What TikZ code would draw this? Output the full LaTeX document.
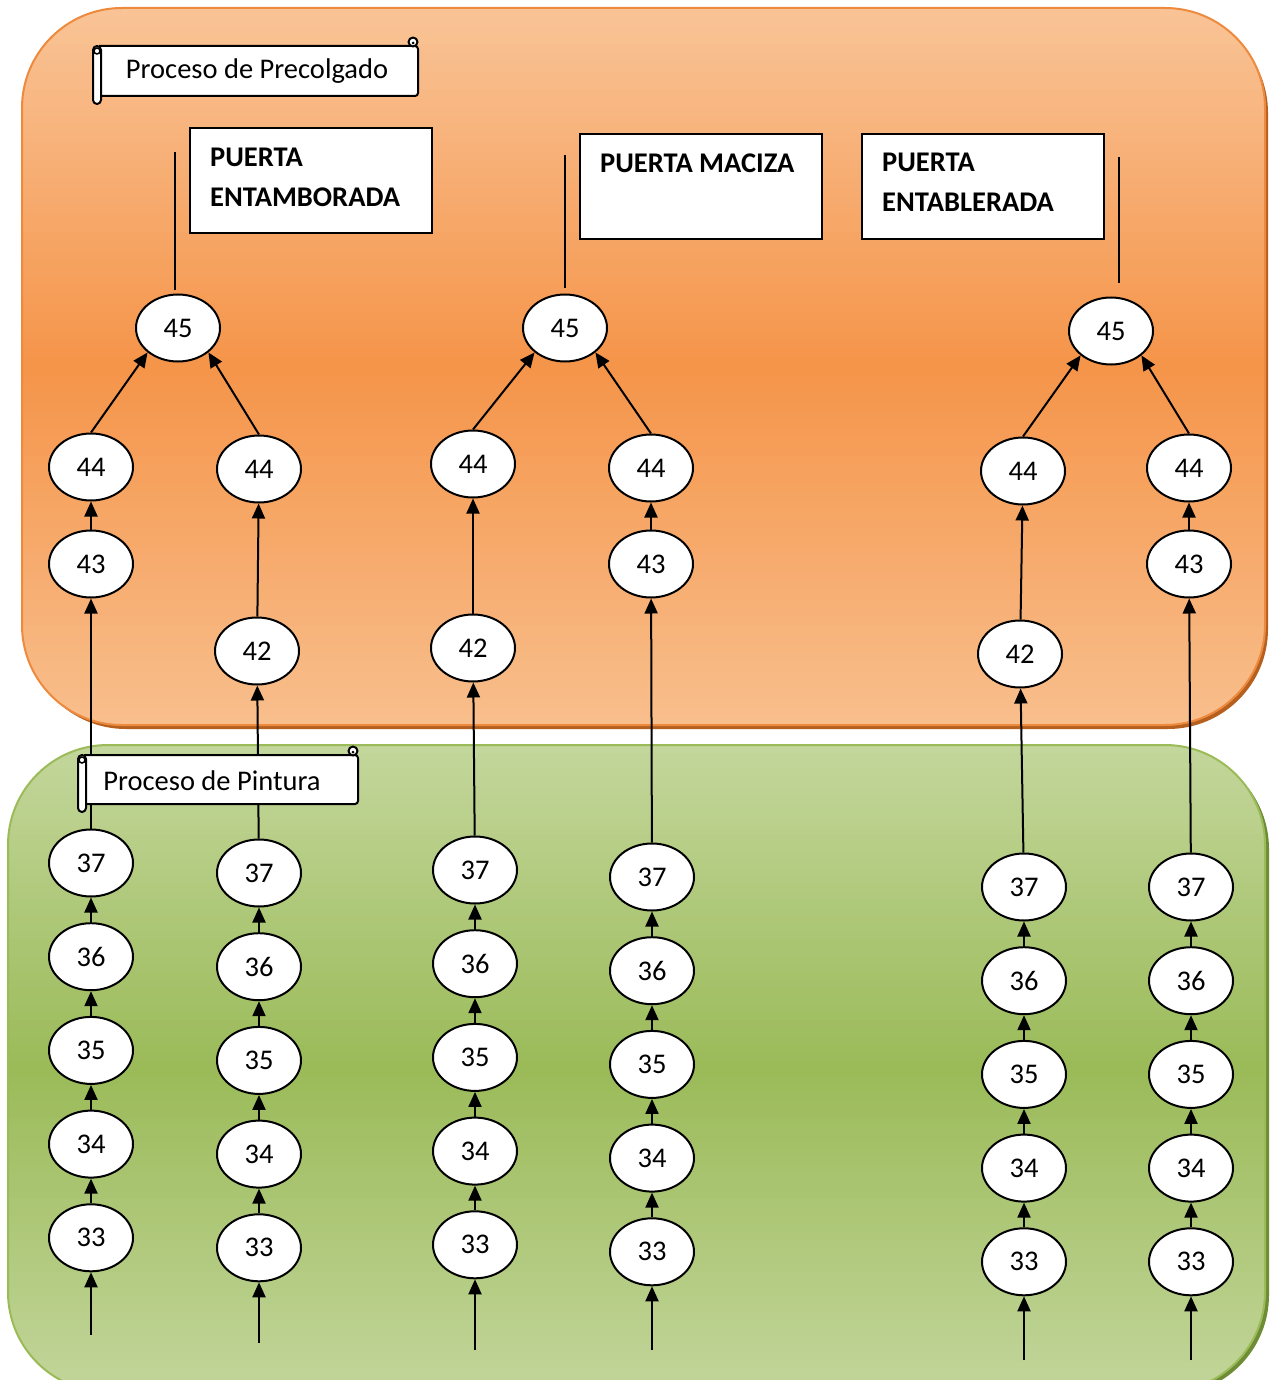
\documentclass[tikz,border=0pt]{standalone}
\usepackage{fontspec}
\setmainfont{Carlito}
\usetikzlibrary{shapes.geometric,arrows.meta}
\definecolor{orTop}{HTML}{F9C396}
\definecolor{orMid}{HTML}{F5954A}
\definecolor{orBot}{HTML}{F8BE8C}
\definecolor{orLine}{HTML}{EE8A3E}
\definecolor{orShadow}{HTML}{B5601F}
\definecolor{grTop}{HTML}{C3D69B}
\definecolor{grMid}{HTML}{9BBB59}
\definecolor{grBot}{HTML}{C2D59A}
\definecolor{grLine}{HTML}{9BBB59}
\definecolor{grShadow}{HTML}{6E8C35}
\newcommand\myfont{\fontsize{28.5}{40}\selectfont}
\tikzset{
  num/.style={ellipse, draw, line width=2pt, fill=white, minimum width=84pt,
    minimum height=67pt, inner sep=0pt, font=\myfont},
  arr/.style={line width=2pt, -{Triangle[length=15pt,width=13pt]}},
  plain/.style={line width=2pt},
  doorbox/.style={draw, line width=2pt, fill=white, minimum width=242pt,
    minimum height=105pt, inner sep=0pt},
  doortext/.style={anchor=north west, inner sep=0pt, align=left,
    font=\myfont\bfseries},
  scrollline/.style={line width=2pt, fill=white, line join=round},
}
\begin{document}
\begin{tikzpicture}[x=1pt,y=-1pt]
\useasboundingbox (0,0) rectangle (1271,1380);
\clip (0,0) rectangle (1271,1380);
\fill[white] (0,0) rectangle (1271,1380);
% orange region
\fill[orShadow, rounded corners=100pt] (26,13) rectangle (1268,729);
\begin{scope}
  \clip[rounded corners=100pt] (22,8) rectangle (1265,725);
  \foreach \i in {0,...,39} {
    \pgfmathsetmacro\p{100-\i*100/39}
    \fill[orTop!\p!orMid] (0,8+\i*8.95) rectangle (1271,8+\i*8.95+9.6);
    \pgfmathsetmacro\q{\i*100/39}
    \fill[orBot!\q!orMid] (0,366+\i*8.975) rectangle (1271,366+\i*8.975+9.6);
  }
\end{scope}
\draw[orLine, line width=2pt, rounded corners=100pt] (22,8) rectangle (1265,725);
% green region
\fill[grShadow, rounded corners=100pt] (12,749) rectangle (1269,1395);
\begin{scope}
  \clip[rounded corners=100pt] (8,745) rectangle (1265,1392);
  \foreach \i in {0,...,39} {
    \pgfmathsetmacro\p{100-\i*100/39}
    \fill[grTop!\p!grMid] (0,745+\i*8.1) rectangle (1271,745+\i*8.1+8.7);
    \pgfmathsetmacro\q{\i*100/39}
    \fill[grBot!\q!grMid] (0,1069+\i*8.1) rectangle (1271,1069+\i*8.1+8.7);
  }
\end{scope}
\draw[grLine, line width=2pt, rounded corners=100pt] (8,745) rectangle (1265,1392);

% door boxes
\node[doorbox] (b1) at (311,180.5) {};
\node[doortext] (t1) at (210,148) {PUERTA\\ENTAMBORADA};
\node[doorbox] (b2) at (700.5,186.5) {};
\node[doortext] (t2) at (600,154) {PUERTA MACIZA};
\node[doorbox] (b3) at (983,186.5) {};
\node[doortext] (t3) at (882,153) {PUERTA\\ENTABLERADA};

% top nodes 45
\node[num] (a1) at (178,328) {45};
\node[num] (a2) at (565,328) {45};
\node[num] (a3) at (1111,331) {45};
\coordinate (u1a) at (175,290); \coordinate (u1b) at (175,152);
\coordinate (u2a) at (565,288); \coordinate (u2b) at (565,155);
\coordinate (u3a) at (1119,283); \coordinate (u3b) at (1119,157);
\draw[plain] (u1a) -- (u1b);
\draw[plain] (u2a) -- (u2b);
\draw[plain] (u3a) -- (u3b);

% 44 / 43 / 42 nodes
\node[num] (c1-44) at (91,467) {44};
\node[num] (c1-43) at (91,564) {43};
\node[num] (c2-44) at (259,469) {44};
\node[num] (c2-42) at (257,651) {42};
\node[num] (c3-44) at (473,464) {44};
\node[num] (c3-42) at (473,648) {42};
\node[num] (c4-44) at (651,468) {44};
\node[num] (c4-43) at (651,564) {43};
\node[num] (c5-44) at (1023,471) {44};
\node[num] (c5-42) at (1020,654) {42};
\node[num] (c6-44) at (1189,468) {44};
\node[num] (c6-43) at (1189,564) {43};

% painting chains
\foreach \c/\x/\y/\yb in {1/91/863/1335, 2/259/873/1343, 3/475/870/1350,
                          4/652/877/1350, 5/1024/887/1360, 6/1191/887/1360} {
  \node[num] (c\c-37) at (\x,\y) {37};
  \node[num] (c\c-36) at (\x,\y+93.7) {36};
  \node[num] (c\c-35) at (\x,\y+187.4) {35};
  \node[num] (c\c-34) at (\x,\y+281.1) {34};
  \node[num] (c\c-33) at (\x,\y+374.8) {33};
  \coordinate (c\c-in) at (\x,\yb);
  \draw[arr] (c\c-in) -- (c\c-33);
  \draw[arr] (c\c-33) -- (c\c-34);
  \draw[arr] (c\c-34) -- (c\c-35);
  \draw[arr] (c\c-35) -- (c\c-36);
  \draw[arr] (c\c-36) -- (c\c-37);
}

% links from painting to pre-hanging
\draw[arr] (c1-37) -- (c1-43);
\draw[arr] (c1-43) -- (c1-44);
\draw[arr] (c2-37) -- (c2-42);
\draw[arr] (c2-42) -- (c2-44);
\draw[arr] (c3-37) -- (c3-42);
\draw[arr] (c3-42) -- (c3-44);
\draw[arr] (c4-37) -- (c4-43);
\draw[arr] (c4-43) -- (c4-44);
\draw[arr] (c5-37) -- (c5-42);
\draw[arr] (c5-42) -- (c5-44);
\draw[arr] (c6-37) -- (c6-43);
\draw[arr] (c6-43) -- (c6-44);

% into 45
\draw[arr] (c1-44.north) -- (a1.south west);
\draw[arr] (c2-44.north) -- (a1.south east);
\draw[arr] (c3-44.north) -- (a2.south west);
\draw[arr] (c4-44.north) -- (a2.south east);
\draw[arr] (c5-44.north) -- (a3.south west);
\draw[arr] (c6-44.north) -- (a3.south east);

% scroll 1
\filldraw[scrollline, rounded corners=3pt] (99,46) -- (418,46) -- (418,96) -- (99,96);
\filldraw[scrollline] (413,42) circle (4.5);
\fill[black] (413,43) circle (1.5);
\filldraw[scrollline, rounded corners=4pt] (93,46) rectangle (101,104);
\draw[line width=1.5pt] (97,51) circle (3);
\node[font=\myfont, inner sep=0pt] (s1) at (257,71) {Proceso de Precolgado};

% scroll 2
\filldraw[scrollline, rounded corners=3pt] (84,755) -- (358,755) -- (358,804) -- (84,804);
\filldraw[scrollline] (353,751) circle (4.5);
\fill[black] (353,752) circle (1.5);
\filldraw[scrollline, rounded corners=4pt] (78,755) rectangle (86,812);
\draw[line width=1.5pt] (82,760) circle (3);
\node[font=\myfont, inner sep=0pt] (s2) at (212,781) {Proceso de Pintura};
\end{tikzpicture}
\end{document}
